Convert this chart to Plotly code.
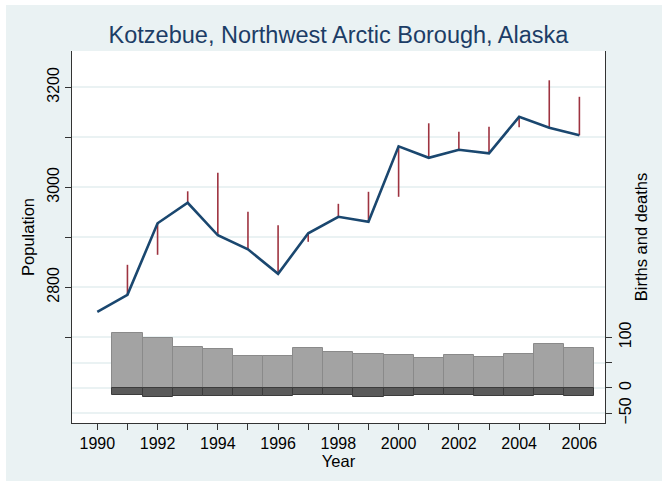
"""
Kotzebue population with births and deaths
"""

import plotly.graph_objects as go

# data
years = list(range(1990, 2007))
population = [2751, 2785, 2928, 2969, 2904, 2876, 2827, 2908, 2941, 2931,
              3082, 3059, 3075, 3068, 3141, 3119, 3104]
bar_years = list(range(1991, 2007))
births = [108, 98, 80, 76, 63, 64, 78, 72, 68, 66, 60, 66, 62, 68, 87, 78]
deaths = [14, 18, 16, 16, 16, 16, 14, 13, 18, 16, 14, 14, 16, 16, 14, 16]

pop_ticks = [2700, 2800, 2900, 3000, 3100, 3200]
pop_labels = ["", "2800", "", "3000", "", "3200"]
bd_ticks = [-50, 0, 50, 100]
bd_labels = ["\u221250", "0", "", "100"]
year_labels = [str(y) if y % 2 == 0 else "" for y in years]

W, H = 662, 482
L, R, T, B = 72, 605, 51, 423
BG = "#eaf2f3"
NAVY = "#1a476f"
FONT = "Liberation Sans, Arial, sans-serif"


def px_x(px):
    return (px - L) / (R - L)


def px_y(py):
    return (B - py) / (B - T)


# spikes: actual population vs previous year + births - deaths
spike_x, spike_y = [], []
for i, yr in enumerate(bar_years):
    expected = population[i] + births[i] - deaths[i]
    spike_x += [yr, yr, None]
    spike_y += [population[i + 1], expected, None]

traces = [
    go.Bar(x=bar_years, y=births, yaxis="y2", width=1,
           marker={"color": "#a3a3a3", "line": {"color": "#8a8a8a", "width": 1}}),
    go.Bar(x=bar_years, y=[-d for d in deaths], yaxis="y2", width=1,
           marker={"color": "#5a5a5a", "line": {"color": "#3c3c3c", "width": 1}}),
    go.Scatter(x=spike_x, y=spike_y, mode="lines",
               line={"color": "#9e3340", "width": 1.6}),
    go.Scatter(x=years, y=population, mode="lines",
               line={"color": NAVY, "width": 2.6}),
]

axis_common = {
    "showline": True, "linecolor": "#333333", "linewidth": 1,
    "ticks": "outside", "ticklen": 6, "tickcolor": "#333333",
    "tickfont": {"size": 16, "color": "black"}, "zeroline": False,
}

layout = {
    "width": W, "height": H,
    "margin": {"l": L, "r": W - R, "t": T, "b": H - B, "pad": 0},
    "paper_bgcolor": BG, "plot_bgcolor": "white",
    "font": {"family": FONT, "color": "black"},
    "showlegend": False, "barmode": "overlay", "bargap": 0,
    "title": {"text": "Kotzebue, Northwest Arctic Borough, Alaska",
              "font": {"size": 23.5, "color": "#1c3d66"},
              "x": 0.5, "xref": "paper", "xanchor": "center",
              "y": 1 - 35 / H, "yref": "container", "yanchor": "middle"},
    "xaxis": {**axis_common, "range": [1989.16, 2006.85],
              "tickvals": years, "ticktext": year_labels, "showgrid": False,
              "title": {"text": "Year", "font": {"size": 16.5}, "standoff": 1}},
    "yaxis": {**axis_common, "range": [2528.6, 3272.6],
              "tickvals": pop_ticks, "ticktext": pop_labels, "tickangle": -90,
              "showgrid": True, "gridcolor": BG, "gridwidth": 1.5,
              "title": {"text": "Population", "font": {"size": 16.5}, "standoff": 5}},
    "yaxis2": {**axis_common, "range": [-69.1, 665.0], "overlaying": "y", "side": "right",
               "tickvals": bd_ticks, "ticktext": bd_labels, "tickangle": -90,
               "showgrid": True, "gridcolor": BG, "gridwidth": 1.5,
               "title": {"text": "Births and deaths", "font": {"size": 16.5}, "standoff": 2}},
}

fig = go.Figure(data=traces, layout=layout)

# zero line for births/deaths, under the bars
fig.add_shape(type="line", xref="paper", yref="y2", x0=0, x1=1, y0=0, y1=0,
              line={"color": "#c8465c", "width": 2}, layer="between")

# thin white frame around the outer background
for x0, y0, x1, y1 in [(0, 0, 6, H), (0, 0, W, 5), (0, 481, W, H)]:
    fig.add_shape(type="rect", xref="paper", yref="paper",
                  x0=px_x(x0), x1=px_x(x1), y0=px_y(y1), y1=px_y(y0),
                  fillcolor="white", line={"width": 0}, layer="below")

# the page body has a default 8px margin; drop it so the figure sits at 0,0
fig.write_html("out.html", config={"displayModeBar": False},
               post_script="document.body.style.margin = '0';")
